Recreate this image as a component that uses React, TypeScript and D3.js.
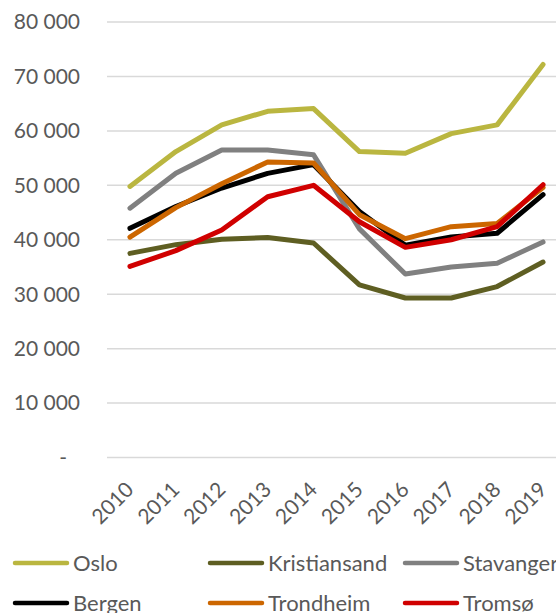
import React from 'react'
import * as d3 from 'd3'

const years = ['2010', '2011', '2012', '2013', '2014', '2015', '2016', '2017', '2018', '2019']
const yTicks = [0, 10000, 20000, 30000, 40000, 50000, 60000, 70000, 80000]

const oslo = [49800, 56200, 61100, 63600, 64100, 56200, 55900, 59500, 61100, 72200]
const kristiansand = [37500, 39100, 40100, 40400, 39400, 31700, 29300, 29300, 31400, 35900]
const stavanger = [45800, 52200, 56500, 56500, 55600, 42000, 33700, 35000, 35700, 39600]
const bergen = [42100, 46100, 49500, 52200, 53800, 45200, 39000, 40500, 41200, 48300]
const trondheim = [40500, 45900, 50300, 54300, 54100, 44600, 40200, 42400, 43000, 49600]
const tromso = [35100, 38000, 41800, 47900, 50000, 43300, 38600, 40000, 42400, 50100]

const seriesNames = ['Oslo', 'Kristiansand', 'Stavanger', 'Bergen', 'Trondheim', 'Tromsø']
const seriesValues = [oslo, kristiansand, stavanger, bergen, trondheim, tromso]
const colors = ['#BAB640', '#5E5E22', '#808080', '#000000', '#CC6600', '#D00000']

const W = 556, H = 613
const FONT = 'Lato, "Open Sans", sans-serif'
const TXT = '#595959'

const fmt = (v: number) => v === 0 ? '-' : d3.format(',')(v).replace(/,/g, ' ')

export default function App() {
  const x = d3.scaleBand().domain(years).range([107, 566])
  const y = d3.scaleLinear().domain([0, 80000]).range([457.5, 22])
  const cx = (yr: string) => (x(yr) ?? 0) + x.bandwidth() / 2

  const line = d3.line<number>()
    .x((_, i) => cx(years[i]))
    .y(d => y(d))

  return (
    <svg width={W} height={H} style={{ position: 'absolute', left: 0, top: 0, background: '#fff' }}
      fontFamily={FONT}>
      {/* grid + y labels */}
      {yTicks.map(t => (
        <g key={t}>
          <line x1={107} x2={W} y1={y(t)} y2={y(t)} stroke="#D9D9D9" strokeWidth={1.5} />
          <text x={t === 0 ? 67 : 80} y={y(t)} dy="0.35em" textAnchor="end" fontSize={21} fill={TXT}>{fmt(t)}</text>
        </g>
      ))}
      {/* x labels */}
      {years.map(yr => (
        <text key={yr} transform={`translate(${cx(yr) + 5},${491}) rotate(-45)`} textAnchor="end"
          fontSize={21} fill={TXT}>{yr}</text>
      ))}
      {/* lines */}
      {seriesValues.map((vals, i) => (
        <path key={seriesNames[i]} d={line(vals) ?? ''} fill="none" stroke={colors[i]} strokeWidth={5}
          strokeLinejoin="round" strokeLinecap="round" />
      ))}
      {/* legend */}
      {seriesNames.map((name, i) => {
        const col = i % 3, row = Math.floor(i / 3)
        const lx = 15 + col * 195
        const ly = 563 + row * 40
        return (
          <g key={name}>
            <line x1={lx} x2={lx + 52} y1={ly} y2={ly} stroke={colors[i]} strokeWidth={4.5} strokeLinecap="round" />
            <text x={lx + 58} y={ly} dy="0.36em" fontSize={22} fill={TXT}>{name}</text>
          </g>
        )
      })}
    </svg>
  )
}
